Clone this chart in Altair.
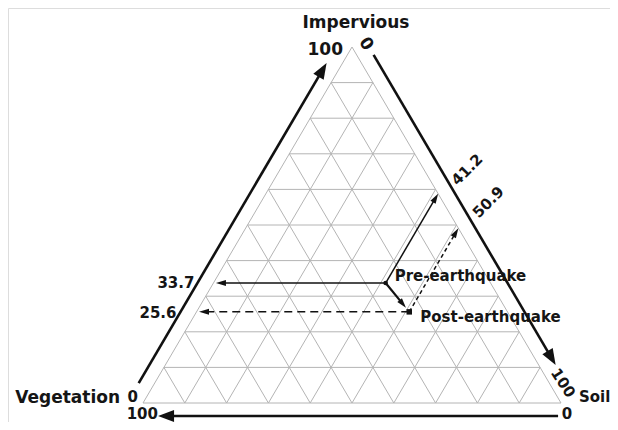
import math
import altair as alt
import pandas as pd

# ---------------- data ----------------
components = ["Impervious", "Soil", "Vegetation"]
states = ["Pre-earthquake", "Post-earthquake"]
impervious = [33.7, 25.6]
soil = [41.2, 50.9]
vegetation = [25.1, 23.5]
grid_levels = [10, 20, 30, 40, 50, 60, 70, 80, 90]
end_ticks = ["0", "100"]

# ---------------- geometry helpers ----------------
W, H = 602, 414
KX, KY = 4.18, 4.1107          # px per data unit
X0, Y0 = 135, 395              # plot px where x=0 / y=0
XD = [-X0 / KX, (W - X0) / KX]
YD = [-(H - Y0) / KY, Y0 / KY]
SQ = math.sqrt(3) / 2


def tern(i, s):
    return (s + i / 2.0, i * SQ)


def shift(p, dx, dy):
    return (p[0] + dx / KX, p[1] - dy / KY)


def heading(a, b):
    dxp = (b[0] - a[0]) * KX
    dyp = -(b[1] - a[1]) * KY
    return math.degrees(math.atan2(dxp, -dyp)) % 360


def back(tip, a, px):
    dxp = (a[0] - tip[0]) * KX
    dyp = (a[1] - tip[1]) * KY
    L = math.hypot(dxp, dyp)
    return (tip[0] + (a[0] - tip[0]) * px / L, tip[1] + (a[1] - tip[1]) * px / L)


# ---------------- grid ----------------
grid = []
for g in grid_levels:
    for a, b in [
        (tern(g, 0), tern(g, 100 - g)),
        (tern(0, g), tern(100 - g, g)),
        (tern(0, 100 - g), tern(100 - g, 0)),
    ]:
        grid.append(dict(x=a[0], y=a[1], x2=b[0], y2=b[1]))
for a, b in [
    (tern(0, 0), tern(0, 100)),
    (tern(0, 0), tern(100, 0)),
    (tern(0, 100), tern(100, 0)),
]:
    grid.append(dict(x=a[0], y=a[1], x2=b[0], y2=b[1]))
grid_df = pd.DataFrame(grid)

# ---------------- outer axes ----------------
axes = [
    (shift(tern(5.6, 0), -16, 0), shift(tern(95.5, 0), -16, 0)),
    (shift(tern(97.8, 2.2), 17, 0), shift(tern(10.7, 89.3), 17, 0)),
    (shift(tern(0, 99.3), 0, 13), shift(tern(0, 3.6), 0, 13)),
]
axis_lines, axis_heads = [], []
for a, t in axes:
    e = back(t, a, 12)
    axis_lines.append(dict(x=a[0], y=a[1], x2=e[0], y2=e[1]))
    axis_heads.append(dict(x=t[0], y=t[1], ang=heading(a, t)))
axis_lines_df = pd.DataFrame(axis_lines)
axis_heads_df = pd.DataFrame(axis_heads)

# ---------------- inner arrows ----------------
pre = tern(impervious[0], soil[0])
post = tern(impervious[1], soil[1])

arrows = [
    (pre, tern(impervious[0], 0.6), "solid"),
    (pre, tern(100 - soil[0], soil[0]), "solid"),
    (pre, (pre[0] + 0.86 * (post[0] - pre[0]), pre[1] + 0.86 * (post[1] - pre[1])), "thick"),
    (post, tern(impervious[1], 0.6), "dash"),
    (post, tern(100 - soil[1], soil[1]), "dot"),
]
arrow_rows, head_rows = [], []
for a, t, st in arrows:
    e = back(t, a, 7)
    arrow_rows.append(dict(x=a[0], y=a[1], x2=e[0], y2=e[1], st=st))
    head_rows.append(dict(x=t[0], y=t[1], ang=heading(a, t)))
arr_df = pd.DataFrame(arrow_rows)
inner_heads_df = pd.DataFrame(head_rows)

pts_df = pd.DataFrame(
    dict(x=[pre[0], post[0]], y=[pre[1], post[1]], state=states)
)

# ---------------- labels ----------------
apex, vv, sv = tern(100, 0), tern(0, 0), tern(0, 100)
labels = [
    (components[0], shift(apex, 4, -19), 0, 17, "center", "alphabetic"),
    (end_ticks[1], shift(apex, -9, 8), 0, 17, "right", "alphabetic"),
    (end_ticks[0], shift(apex, 14, -3), 55, 17, "center", "middle"),
    (components[2], shift(vv, -23, 0), 0, 17, "right", "alphabetic"),
    (end_ticks[0], shift(vv, -5, -1), 0, 15, "right", "alphabetic"),
    (end_ticks[1], shift(vv, 15, 11), 0, 15, "right", "middle"),
    (components[1], shift(sv, 18, -6), 0, 15, "left", "middle"),
    (end_ticks[1], shift(sv, 2, -20), 57, 15, "center", "middle"),
    (end_ticks[0], shift(sv, 6, 11), 0, 15, "center", "middle"),
    (f"{impervious[0]}", shift(tern(impervious[0], 0), -19, 0), 0, 15, "right", "middle"),
    (f"{impervious[1]}", shift(tern(impervious[1], 0), -20, 1), 0, 15, "right", "middle"),
    (f"{soil[0]}", shift(tern(100 - soil[0], soil[0]), 29, -24), -45, 15, "center", "middle"),
    (f"{soil[1]}", shift(tern(100 - soil[1], soil[1]), 30, -26), -45, 15, "center", "middle"),
    (states[0], shift(pre, 9, -2), 0, 15, "left", "alphabetic"),
    (states[1], shift(post, 11, 10), 0, 15, "left", "alphabetic"),
]
lab_df = pd.DataFrame(
    [dict(text=t, x=p[0], y=p[1], ang=a, size=s, align=al, base=b) for t, p, a, s, al, b in labels]
)

# ---------------- chart ----------------
xs = alt.Scale(domain=XD, nice=False, zero=False)
ys = alt.Scale(domain=YD, nice=False, zero=False)
X = alt.X("x:Q", scale=xs, axis=None)
Y = alt.Y("y:Q", scale=ys, axis=None)

BIG_HEAD = "M0,0L-0.75,2L0.75,2Z"     # tip at origin, length = sqrt(size)
SMALL_HEAD = "M0,0L-0.6,2L0.6,2Z"

layers = []
layers.append(
    alt.Chart(grid_df).mark_rule(color="#b4b4b4", strokeWidth=1).encode(X, Y, x2="x2:Q", y2="y2:Q")
)
layers.append(
    alt.Chart(axis_lines_df).mark_rule(color="#111111", strokeWidth=2.6).encode(X, Y, x2="x2:Q", y2="y2:Q")
)
layers.append(
    alt.Chart(axis_heads_df)
    .mark_point(shape=BIG_HEAD, filled=True, color="#111111", opacity=1, size=256, strokeWidth=0)
    .encode(X, Y, angle=alt.Angle("ang:Q", scale=None))
)
styles = {
    "solid": dict(strokeWidth=1.5),
    "thick": dict(strokeWidth=2.2),
    "dash": dict(strokeWidth=1.5, strokeDash=[8, 5]),
    "dot": dict(strokeWidth=1.5, strokeDash=[4, 3]),
}
for st, kw in styles.items():
    layers.append(
        alt.Chart(arr_df[arr_df.st == st]).mark_rule(color="#111111", **kw).encode(X, Y, x2="x2:Q", y2="y2:Q")
    )
layers.append(
    alt.Chart(inner_heads_df)
    .mark_point(shape=SMALL_HEAD, filled=True, color="#111111", opacity=1, size=100, strokeWidth=0)
    .encode(X, Y, angle=alt.Angle("ang:Q", scale=None))
)
layers.append(
    alt.Chart(pts_df.iloc[[0]]).mark_point(shape="circle", filled=True, color="#111111", opacity=1, size=22)
    .encode(X, Y)
)
layers.append(
    alt.Chart(pts_df.iloc[[1]]).mark_point(shape="square", filled=True, color="#111111", opacity=1, size=30)
    .encode(X, Y)
)
for (al, b), sub in lab_df.groupby(["align", "base"]):
    layers.append(
        alt.Chart(sub)
        .mark_text(align=al, baseline=b, font="DejaVu Sans", fontWeight="bold", color="#151515")
        .encode(X, Y, text="text:N", angle=alt.Angle("ang:Q", scale=None), size=alt.Size("size:Q", scale=None))
    )

chart = (
    alt.layer(*layers)
    .properties(width=W, height=H, autosize=alt.AutoSizeParams(type="none"), padding=0)
    .configure_view(strokeWidth=0, stroke="transparent")
    .configure(background="white")
)
chart.save("out.html", embed_options={"renderer": "svg", "actions": False})
